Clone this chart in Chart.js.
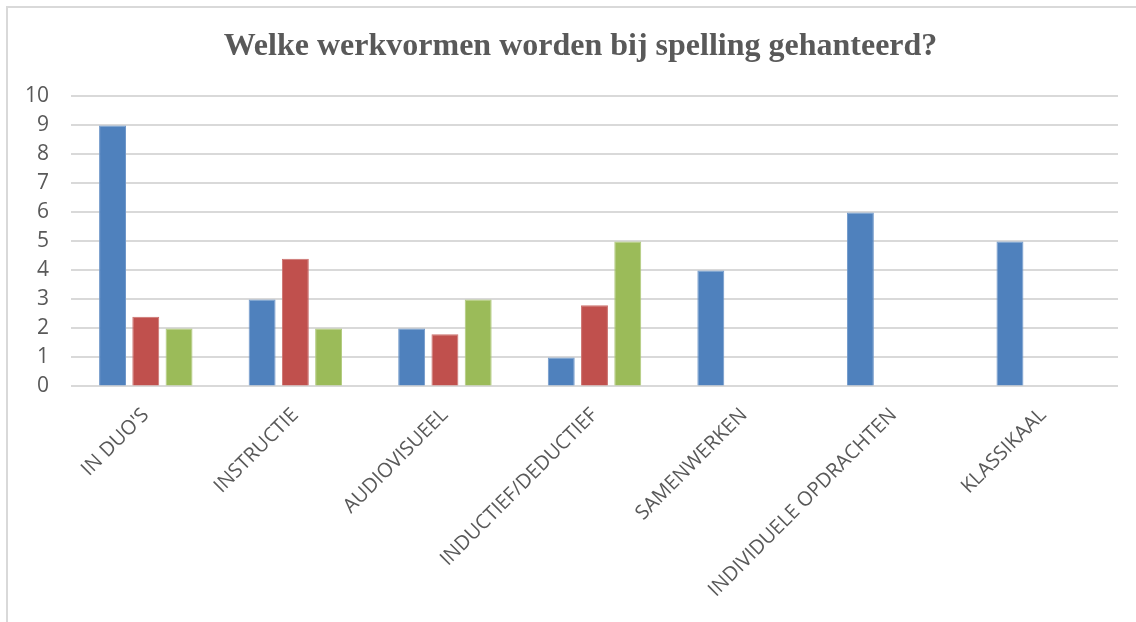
<!DOCTYPE html>
<html>
<head>
<meta charset="utf-8">
<title>Werkvormen spelling</title>
<script src="https://cdn.jsdelivr.net/npm/chart.js@4/dist/chart.umd.min.js"></script>
<style>
  html, body { margin: 0; padding: 0; background: #fff; }
  #wrap { position: relative; width: 1136px; height: 622px; overflow: hidden; }
  #frame { position: absolute; left: 6px; top: 6px; width: 1200px; height: 700px;
           border-left: 2px solid #d9d9d9; border-top: 2px solid #d9d9d9; }
  canvas { position: absolute; left: 0; top: 0; }
</style>
</head>
<body>
<div id="wrap">
  <div id="frame"></div>
  <canvas id="grafiek" width="1136" height="622"></canvas>
</div>
<script>
// categorieen en reeksen
var werkvormen = ["IN DUO'S", "INSTRUCTIE", "AUDIOVISUEEL", "INDUCTIEF/DEDUCTIEF", "SAMENWERKEN", "INDIVIDUELE OPDRACHTEN", "KLASSIKAAL"];
var reeks1 = [9, 3, 2, 1, 4, 6, 5];
var reeks2 = [2.4, 4.4, 1.8, 2.8, 0, 0, 0];
var reeks3 = [2, 2, 3, 5, 0, 0, 0];
var yTicks = [0, 1, 2, 3, 4, 5, 6, 7, 8, 9, 10];

var grijs = "#595959";

function maakReeks(label, data, kleur, rand) {
    return {
        label: label,
        data: data,
        backgroundColor: kleur,
        borderColor: rand,
        borderWidth: 1,
        categoryPercentage: 0.667,
        barPercentage: 0.81
    };
}

var ctx = document.getElementById("grafiek");
var grafiek = new Chart(ctx, {
    type: "bar",
    data: {
        labels: werkvormen,
        datasets: [
            maakReeks("Reeks 1", reeks1, "#4f81bd", "#6f97c9"),
            maakReeks("Reeks 2", reeks2, "#c0504d", "#cc706d"),
            maakReeks("Reeks 3", reeks3, "#9bbb59", "#afc97a")
        ]
    },
    options: {
        responsive: false,
        animation: false,
        layout: { padding: { left: 25, right: 0, top: 8, bottom: 11 } },
        plugins: {
            legend: { display: false },
            tooltip: { enabled: false },
            title: {
                display: true,
                text: "Welke werkvormen worden bij spelling gehanteerd?",
                color: grijs,
                font: { family: "'Liberation Serif', 'Times New Roman', serif", size: 32, weight: "bold" },
                padding: { top: 20, bottom: 30 }
            }
        },
        scales: {
            x: {
                grid: { display: false },
                border: { display: false },
                ticks: {
                    color: grijs,
                    font: { family: "'Open Sans', sans-serif", size: 20 },
                    minRotation: 45,
                    maxRotation: 45,
                    padding: 9
                },
                // schuine labels mogen links uitsteken, geen extra ruimte reserveren
                afterFit: function (as) { as.paddingLeft = 0; as.paddingRight = 0; }
            },
            y: {
                min: 0,
                max: 10,
                afterBuildTicks: function (as) {
                    as.ticks = yTicks.map(function (v) { return { value: v }; });
                },
                grid: { color: "#d9d9d9", lineWidth: 2, drawTicks: false },
                border: { display: false },
                ticks: {
                    color: grijs,
                    font: { family: "'Open Sans', sans-serif", size: 21 },
                    padding: 22
                },
                afterFit: function (as) { as.width = 46; }
            },
            // lege as rechts, houdt ruimte vrij naast het plotvlak
            rechts: {
                position: "right",
                grid: { display: false },
                border: { display: false },
                ticks: { display: false },
                afterFit: function (as) { as.width = 18; }
            }
        }
    }
});
</script>
</body>
</html>
